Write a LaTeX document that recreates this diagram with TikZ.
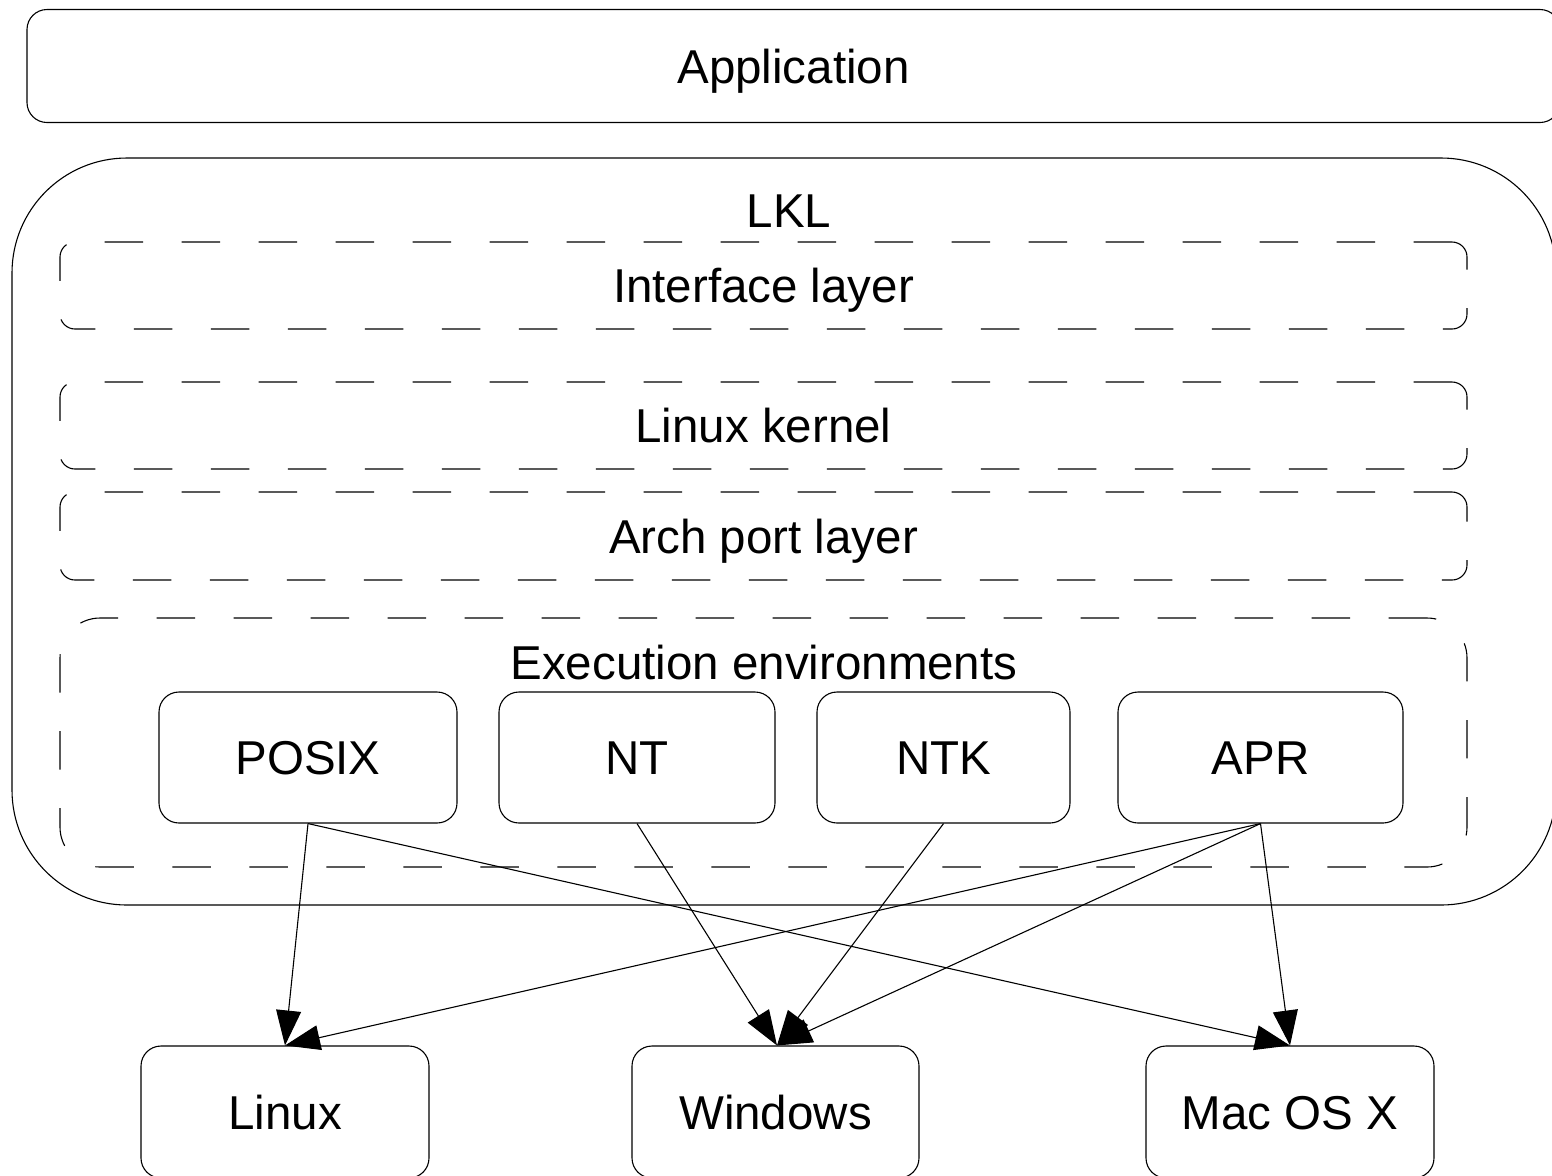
\documentclass[tikz,border=0pt]{standalone}
\usepackage{fontspec}
\setmainfont{Liberation Sans}
\usetikzlibrary{arrows.meta}
\begin{document}
\begin{tikzpicture}[x=0.5pt,y=-0.5pt,
  every node/.style={font=\fontsize{23.75pt}{28pt}\selectfont, text height=17pt, text depth=0pt, inner sep=0pt},
  box/.style={draw, line width=0.55pt, rounded corners=10pt},
  layer/.style={draw, line width=0.55pt, dash pattern=on 19.2pt off 19.3pt, rounded corners=7.5pt},
  conn/.style={line width=0.55pt, -{Triangle[length=17.5pt,width=12.5pt]}}]
\useasboundingbox (0,0) rectangle (1552,1175);
% outer boxes
\node[box, minimum width=766.5pt, minimum height=56.5pt] (app) at (793.5,66) {Application};
\node[box, minimum width=772pt, minimum height=373.5pt, rounded corners=57.5pt] (lkl) at (784,531.5) {};
\node (lkllbl) at (789,210) {LKL};
% layers
\node[layer, minimum width=703.5pt, minimum height=43.5pt] (iface) at (763.5,285.5) {Interface layer};
\node[layer, minimum width=703.5pt, minimum height=43.5pt] (kernel) at (763.5,425.5) {Linux kernel};
\node[layer, minimum width=703.5pt, minimum height=44pt] (arch) at (763.5,536) {Arch port layer};
\node[layer, minimum width=703.5pt, minimum height=124.5pt, rounded corners=20pt] (exec) at (763.5,742.5) {};
\node (execlbl) at (764,662.5) {Execution environments};
% execution environments
\node[box, minimum width=149pt, minimum height=65.5pt] (posix) at (308,757.5) {POSIX};
\node[box, minimum width=138pt, minimum height=65.5pt] (nt) at (637,757.5) {NT};
\node[box, minimum width=126.5pt, minimum height=65.5pt] (ntk) at (943.5,757.5) {NTK};
\node[box, minimum width=142.5pt, minimum height=65.5pt] (apr) at (1260.5,757.5) {APR};
% host OSes
\node[box, minimum width=144pt, minimum height=66pt] (linux) at (285,1112) {Linux};
\node[box, minimum width=143.5pt, minimum height=66pt] (windows) at (775.5,1112) {Windows};
\node[box, minimum width=144pt, minimum height=66pt] (mac) at (1290,1112) {Mac OS X};
% connectors
\draw[conn] (posix.south) -- (linux.north);
\draw[conn] (posix.south) -- (mac.north);
\draw[conn] (nt.south) -- ([xshift=0.75pt]windows.north);
\draw[conn] (ntk.south) -- ([xshift=0.75pt]windows.north);
\draw[conn] (apr.south) -- (linux.north);
\draw[conn] (apr.south) -- ([xshift=0.75pt]windows.north);
\draw[conn] (apr.south) -- (mac.north);
\end{tikzpicture}
\end{document}
